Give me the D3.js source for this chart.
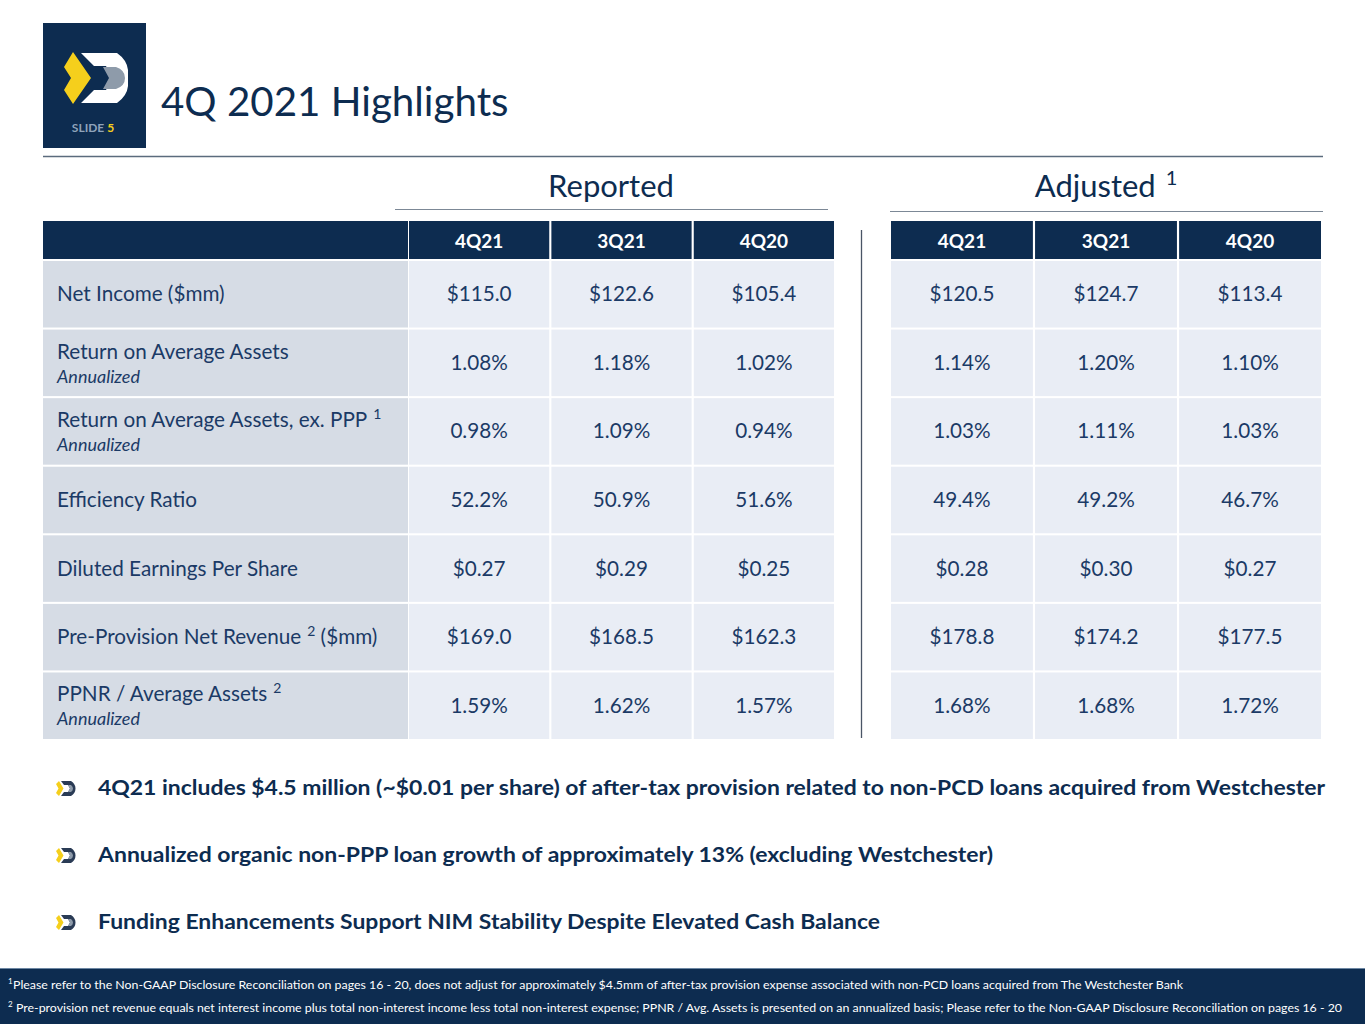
<!DOCTYPE html>
<html><head><meta charset="utf-8">
<script src="https://cdn.jsdelivr.net/npm/d3@7"></script>
<style>
html,body{margin:0;padding:0;background:#fff;}
svg{display:block;font-family:Lato,"Open Sans",sans-serif;}
</style></head>
<body>
<svg id="chart" width="1365" height="1024"></svg>
<script>
// ---------- DATA ----------
const columns = ["4Q21", "3Q21", "4Q20"];
const metrics = ["Net Income ($mm)", "Return on Average Assets", "Return on Average Assets, ex. PPP", "Efficiency Ratio", "Diluted Earnings Per Share", "Pre-Provision Net Revenue", "PPNR / Average Assets"];
const metricSuper = ["", "", "1", "", "", "2", "2"];
const metricSuffix = ["", "", "", "", "", " ($mm)", ""];
const metricSub = ["", "Annualized", "Annualized", "", "", "", "Annualized"];
const reported = [
  ["$115.0", "$122.6", "$105.4"],
  ["1.08%", "1.18%", "1.02%"],
  ["0.98%", "1.09%", "0.94%"],
  ["52.2%", "50.9%", "51.6%"],
  ["$0.27", "$0.29", "$0.25"],
  ["$169.0", "$168.5", "$162.3"],
  ["1.59%", "1.62%", "1.57%"]
];
const adjusted = [
  ["$120.5", "$124.7", "$113.4"],
  ["1.14%", "1.20%", "1.10%"],
  ["1.03%", "1.11%", "1.03%"],
  ["49.4%", "49.2%", "46.7%"],
  ["$0.28", "$0.30", "$0.27"],
  ["$178.8", "$174.2", "$177.5"],
  ["1.68%", "1.68%", "1.72%"]
];
const bullets = [
  "4Q21 includes $4.5 million (~$0.01 per share) of after-tax provision related to non-PCD loans acquired from Westchester",
  "Annualized organic non-PPP loan growth of approximately 13% (excluding Westchester)",
  "Funding Enhancements Support NIM Stability Despite Elevated Cash Balance"
];
const footnotes = [
  "Please refer to the Non-GAAP Disclosure Reconciliation on pages 16 - 20, does not adjust for approximately $4.5mm of after-tax provision expense associated with non-PCD loans acquired from The Westchester Bank",
  "Pre-provision net revenue equals net interest income plus total non-interest income less total non-interest expense; PPNR / Avg. Assets is presented on an annualized basis; Please refer to the Non-GAAP Disclosure Reconciliation on pages 16 - 20"
];
const title = "4Q 2021 Highlights";

// ---------- STYLE ----------
const NAVY = "#0D2C50";
const TXT = "#1B3A66";
const LABEL_BG = "#D6DCE5";
const VAL_BG = "#E9EDF5";
const FS = 20.7;

const svg = d3.select("#chart");

// ---------- HEADER ----------
const logo = svg.append("g");
logo.append("rect").attr("x", 43).attr("y", 23).attr("width", 103).attr("height", 125).attr("fill", NAVY);
logo.append("path").attr("fill", "#F5CF1C")
  .attr("d", "M64,67 L73,52 L91,78 L73,104 L64,90 L71,78 Z");
logo.append("path").attr("fill", "#FFFFFF")
  .attr("d", "M81,53 L117,53 Q127,60 128,70 L128,86 Q127,96 117,103 L81,103 L94,90 L106,90 L112,78 L106,66 L94,66 Z");
logo.append("path").attr("fill", "#8E9BAA")
  .attr("d", "M103,67 L116,67 Q125,70 125,78 Q125,86 116,89 L103,89 L109,78 Z");
logo.append("text").attr("x", 93).attr("y", 132).attr("text-anchor", "middle")
  .attr("font-size", 12).attr("font-weight", 700).attr("fill", "#8FA3BA")
  .text("SLIDE ").append("tspan").attr("fill", "#F5CF1C").text("5");

svg.append("text").attr("x", 161).attr("y", 116).attr("font-size", 40.3).attr("fill", NAVY).text(title);
svg.append("line").attr("x1", 43).attr("x2", 1323).attr("y1", 156.5).attr("y2", 156.5).attr("stroke", "#5B6B7D").attr("stroke-width", 1.5);

// ---------- SCALES ----------
const yRow = d3.scaleBand().domain(d3.range(metrics.length)).range([261, 739]).paddingInner(0.03);
const headerTop = 221, headerBot = 259;
const xRep = d3.scaleBand().domain(columns).range([409, 834]).paddingInner(0.015);
const xAdj = d3.scaleBand().domain(columns).range([891, 1321]).paddingInner(0.015);
const labelX0 = 43, labelX1 = 408;

// section titles
function sectionTitle(cx, text, sup, x0, x1, lineY) {
  const t = svg.append("text").attr("x", cx).attr("y", 197)
    .attr("text-anchor", "middle").attr("font-size", 31).attr("fill", NAVY).text(text);
  if (sup) t.append("tspan").attr("dx", 10).attr("dy", -12).attr("font-size", 20).text(sup);
  svg.append("line").attr("x1", x0).attr("x2", x1)
    .attr("y1", lineY).attr("y2", lineY).attr("stroke", "#7C8896").attr("stroke-width", 1);
}
sectionTitle(611, "Reported", "", 395, 828, 209.5);
sectionTitle(1106, "Adjusted", "1", 890, 1323, 211.5);

// ---------- HEADER ROWS ----------
svg.append("rect").attr("x", labelX0).attr("y", headerTop).attr("width", labelX1 - labelX0).attr("height", headerBot - headerTop).attr("fill", NAVY);
[xRep, xAdj].forEach(sc => {
  const g = svg.append("g");
  g.selectAll("rect").data(columns).join("rect")
    .attr("x", d => sc(d)).attr("y", headerTop).attr("width", sc.bandwidth()).attr("height", headerBot - headerTop).attr("fill", NAVY);
  g.selectAll("text").data(columns).join("text")
    .attr("x", d => sc(d) + sc.bandwidth() / 2).attr("y", headerTop + 26.5)
    .attr("text-anchor", "middle").attr("font-size", 19).attr("font-weight", 700).attr("fill", "#fff").text(d => d);
});

// ---------- LABEL CELLS ----------
const lab = svg.append("g");
lab.selectAll("rect").data(metrics).join("rect")
  .attr("x", labelX0).attr("y", (d, i) => yRow(i)).attr("width", labelX1 - labelX0).attr("height", yRow.bandwidth()).attr("fill", LABEL_BG);
metrics.forEach((m, i) => {
  const top = yRow(i), h = yRow.bandwidth();
  const two = metricSub[i] !== "";
  const t = lab.append("text").attr("x", 57).attr("y", two ? top + 29 : top + h / 2 + 7)
    .attr("font-size", FS).attr("fill", TXT).text(m);
  if (metricSuper[i]) {
    t.append("tspan").attr("dx", 6).attr("dy", -8).attr("font-size", 14).text(metricSuper[i]);
    if (metricSuffix[i]) t.append("tspan").attr("dy", 8).attr("font-size", FS).text(metricSuffix[i]);
  }
  if (two) lab.append("text").attr("x", 57).attr("y", top + 53).attr("font-size", 18)
    .attr("font-style", "italic").attr("fill", TXT).text(metricSub[i]);
});

// ---------- VALUE CELLS ----------
function valueTable(sc, data) {
  const g = svg.append("g");
  const cells = data.flatMap((row, i) => row.map((v, j) => ({ i, col: columns[j], v })));
  g.selectAll("rect").data(cells).join("rect")
    .attr("x", d => sc(d.col)).attr("y", d => yRow(d.i)).attr("width", sc.bandwidth()).attr("height", yRow.bandwidth()).attr("fill", VAL_BG);
  g.selectAll("text").data(cells).join("text")
    .attr("x", d => sc(d.col) + sc.bandwidth() / 2).attr("y", d => yRow(d.i) + yRow.bandwidth() / 2 + 7)
    .attr("text-anchor", "middle").attr("font-size", FS).attr("fill", TXT).text(d => d.v);
}
valueTable(xRep, reported);
valueTable(xAdj, adjusted);

// divider
svg.append("line").attr("x1", 861.5).attr("x2", 861.5).attr("y1", 230).attr("y2", 738).attr("stroke", "#4A5566").attr("stroke-width", 1.3);

// ---------- BULLETS ----------
const bY = d3.scalePoint().domain(d3.range(bullets.length)).range([795, 929]);
const widths = [1227, 895, 782];
bullets.forEach((b, i) => {
  const y = bY(i);
  const ic = svg.append("g").attr("transform", `translate(56,${y - 14})`);
  ic.append("path").attr("fill", "#F5CF1C").attr("d", "M0,3 L3,0 L7.5,7.5 L3,15 L0,12 L2.5,7.5 Z");
  ic.append("path").attr("fill", "#2A3B55").attr("d", "M5,0 L15,0 Q19.5,3 19.5,7.5 Q19.5,12 15,15 L5,15 L8,11 L12,11 L14,7.5 L12,4 L8,4 Z");
  ic.append("path").attr("fill", "#8E9BAA").attr("d", "M12,4 L15,4 Q17,5.5 17,7.5 Q17,9.5 15,11 L12,11 L14,7.5 Z");
  svg.append("text").attr("x", 98).attr("y", y).attr("font-size", 21).attr("font-weight", 700).attr("fill", NAVY)
    .attr("textLength", widths[i]).attr("lengthAdjust", "spacingAndGlyphs").text(b);
});

// ---------- FOOTER ----------
svg.append("rect").attr("x", 0).attr("y", 968).attr("width", 1365).attr("height", 56).attr("fill", NAVY);
svg.append("line").attr("x1", 0).attr("x2", 1365).attr("y1", 968.5).attr("y2", 968.5).attr("stroke", "#6D87A3").attr("stroke-width", 1);
const fW = [1175, 1334];
footnotes.forEach((f, i) => {
  const y = 989 + i * 23;
  svg.append("text").attr("x", 8).attr("y", y - 5).attr("font-size", 8).attr("fill", "#fff").text(String(i + 1));
  svg.append("text").attr("x", i === 0 ? 13 : 16).attr("y", y).attr("font-size", 11.5).attr("fill", "#fff")
    .attr("textLength", fW[i] - (i === 0 ? 5 : 8)).attr("lengthAdjust", "spacingAndGlyphs").text(f);
});
</script>
</body></html>
